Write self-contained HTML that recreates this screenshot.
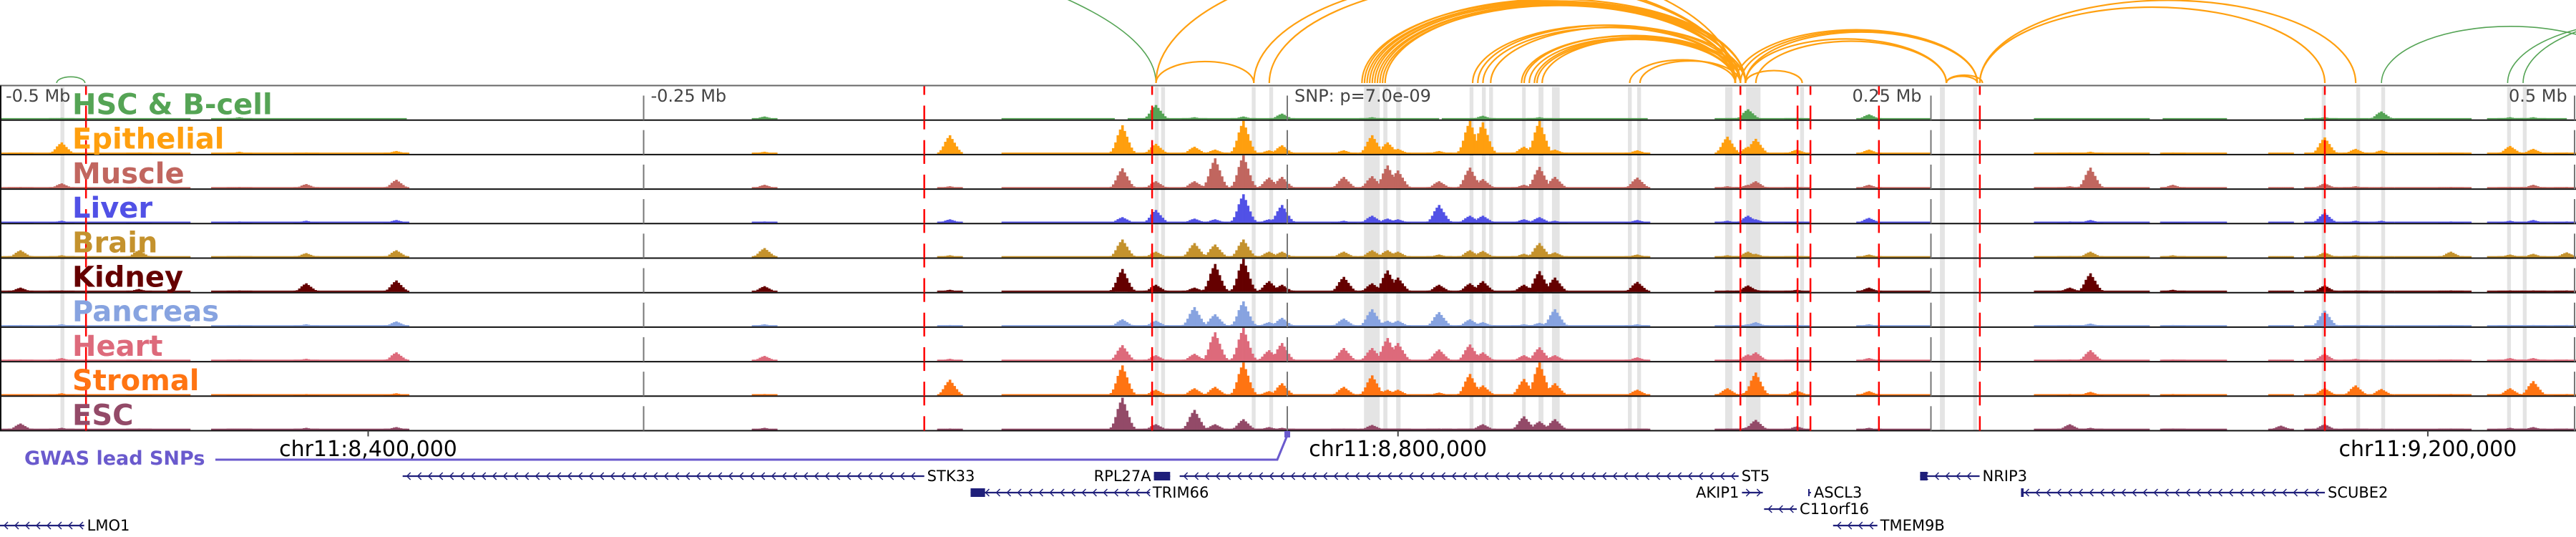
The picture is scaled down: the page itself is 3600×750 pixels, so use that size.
<!DOCTYPE html>
<html><head><meta charset="utf-8">
<style>
html,body{margin:0;padding:0;background:#fff;}
svg{display:block;}
text{font-family:"DejaVu Sans","Liberation Sans",sans-serif;}
</style></head>
<body>
<svg id="chart" width="3600" height="750" viewBox="0 0 3600 750" xmlns="http://www.w3.org/2000/svg">
<defs><clipPath id="arcclip"><rect x="0" y="0" width="3600" height="118"/></clipPath></defs>
<g id="bands"></g>
<g id="signals"></g>
<g id="borders"></g>
<g id="vlines"></g>
<g id="arcs" clip-path="url(#arcclip)"></g>
<g id="labels"></g>
<g id="genes"></g>
</svg>
<script>
// ---- data (kb offset from lead SNP, chr11:8,757,000) ----
const trackNames = ["HSC & B-cell","Epithelial","Muscle","Liver","Brain","Kidney","Pancreas","Heart","Stromal","ESC"];
const trackColors = ["#55a455","#ff9f0e","#c1665f","#5151e6","#c4922d","#650000","#87a3e0","#dd6a7b","#ff7412","#934a68"];
const peakPos = [-492,-476,-446,-407,-381,-346,-203,-131,-64,-51,-36,-28,-17,-7,-2,22,33,39,43,59,71,76,92,98,104,136,171,179,182,198,226,304,312,344,386,403,415,425,452,475,484,497];
const hHSC     = [0,2,0,3,0,0,4,0,0,20,3,0,4,0,8,0,3,0,0,0,0,5,0,3,0,0,1,14,0,2,7,0,0,0,0,3,0,11,0,3,3,0];
const hEpi     = [2,16,2,3,2,4,3,26,40,14,10,6,46,5,12,5,26,16,7,4,46,44,10,46,6,5,24,10,21,6,6,2,3,2,1,23,7,5,2,11,7,2];
const hMuscle  = [2,7,2,2,6,12,5,3,28,10,10,42,46,15,16,16,17,32,25,10,29,13,5,30,16,15,3,5,10,2,5,3,29,5,1,7,3,2,2,2,5,2];
const hLiver   = [1,3,1,2,3,4,2,5,8,18,6,5,40,5,25,3,10,6,5,25,10,10,5,8,3,4,3,10,5,2,7,2,4,1,1,14,3,3,2,3,4,2];
const hBrain   = [10,3,10,2,6,10,13,3,25,8,20,18,25,8,8,8,10,10,8,4,10,9,5,20,7,4,3,8,5,2,4,2,8,3,1,7,3,2,8,4,5,7];
const hKidney  = [6,2,4,2,12,16,8,3,32,10,6,39,46,15,10,21,12,30,20,10,12,15,10,29,20,14,2,9,3,3,6,6,26,3,1,9,2,2,2,2,2,2];
const hPanc    = [2,3,2,2,3,7,3,2,10,8,27,17,35,6,12,11,24,8,8,20,10,6,3,5,24,3,2,3,6,2,3,2,4,2,1,22,2,2,2,2,2,2];
const hHeart   = [2,4,2,2,3,12,7,3,22,8,10,40,46,15,25,18,18,32,25,16,23,12,8,19,8,5,2,9,12,2,4,2,15,2,1,10,3,2,2,4,4,2];
const hStromal = [1,3,1,1,2,3,2,22,42,8,10,12,46,6,17,12,28,8,8,4,30,14,23,46,17,8,10,5,32,7,6,2,5,2,1,10,14,9,2,10,20,2];
const hESC     = [9,3,2,1,3,4,3,2,45,8,28,8,15,4,3,2,7,2,2,2,2,8,19,12,15,2,2,4,14,5,3,8,3,2,6,8,2,2,2,3,4,2];
const baseStart = [-500,-418,-111,-62,60,170,230,290,340,395,430,466];
const baseEnd   = [-426,-342,-67,59,140,200,250,335,365,420,460,497];
const bandStart = [-476.5,-51.5,-49,-13.8,-7,29.8,37.3,42.3,70.8,75.6,78.4,91.2,97.6,102.8,132.3,135.9,170.1,178.2,199.2,253.5,266.4,401.8,415.2,424.9,473.8,479.9];
const bandEnd   = [-475,-50,-47.5,-12.3,-5.5,35.9,38.9,44,72.3,77.1,79.9,92.6,99.5,105.8,133.8,137.4,172.9,183.8,200.7,255.4,267.9,403.3,416.7,426.4,475.3,481.4];
const redLines = [-466.6,-141,-52.5,176,198.2,203.2,229.8,269,403];
const tickKb = [-250,0,250,500];
const tickLabels = ["-0.25 Mb","SNP: p=7.0e-09","0.25 Mb","0.5 Mb"];
const arcStart = [-478,-920,425,474,480,-51,-13,-7,29,30,31,32,33,34,35,36,37,38,72,74,76,79,91,92,94,96,97,99,133,137,-51,174,176,178,178,182,178,256,256,269,269];
const arcEnd   = [-467,-51,525,584,600,-13,174,174,174,178,174,176,174,178,174,176,174,178,174,176,174,178,174,176,174,176,174,178,174,176,174,268,268,268,256,256,200,268,270,403,415];
const arcGreen = [1,1,1,1,1,0,0,0,0,0,0,0,0,0,0,0,0,0,0,0,0,0,0,0,0,0,0,0,0,0,0,0,0,0,0,0,0,0,0,0,0];
const rulerKb = [-357,43,443];
const rulerLabels = ["chr11:8,400,000","chr11:8,800,000","chr11:9,200,000"];
const geneNames = ["STK33","RPL27A","TRIM66","LMO1","ST5","AKIP1","C11orf16","TMEM9B","NRIP3","SCUBE2","ASCL3"];
const geneStart = [-343.6,-51.8,-123,-500,-41.8,176.6,185.2,212,245.8,285,202.6];
const geneEnd   = [-141,-45.5,-53.4,-467.3,175.3,184.7,197.9,229.2,268.9,403,203.4];
const geneRow   = [0,0,1,3,0,1,2,3,0,1,1];
const geneDir   = [-1,-1,-1,-1,-1,1,-1,-1,-1,-1,0];
const geneLabelSide = [1,-1,1,1,1,-1,1,1,1,1,1];

// ---- scales ----
const NS="http://www.w3.org/2000/svg";
const xOf = kb => (kb + 500) * 3.598;
const T0 = 119.5, TH = 48.2;
const trackHeights=[hHSC,hEpi,hMuscle,hLiver,hBrain,hKidney,hPanc,hHeart,hStromal,hESC];
function mk(tag, attrs, parent){const e=document.createElementNS(NS,tag);for(const k in attrs)e.setAttribute(k,attrs[k]);parent.appendChild(e);return e;}
const gB=document.getElementById('bands'),gS=document.getElementById('signals'),gBo=document.getElementById('borders'),
gV=document.getElementById('vlines'),gA=document.getElementById('arcs'),gL=document.getElementById('labels'),gG=document.getElementById('genes');

for(let i=0;i<bandStart.length;i++){
  const r=mk('rect',{x:xOf(bandStart[i]),y:T0+2,width:Math.max(4,xOf(bandEnd[i])-xOf(bandStart[i])),height:TH*10-2,fill:'#e4e4e4'},gB);
  
  
}
const shape=[0.08,0.2,0.4,0.65,0.85,1,0.8,0.6,0.4,0.22,0.1];
for(let t=0;t<10;t++){
  const g=mk('g',{fill:trackColors[t]},gS);
  
  
  const base=T0+(t+1)*TH-1;
  for(let s=0;s<baseStart.length;s++){
    const r=mk('rect',{x:xOf(baseStart[s]),y:base-1.8,width:xOf(baseEnd[s])-xOf(baseStart[s]),height:1.8},g);
    
    
  }
  const hs=trackHeights[t];
  for(let p=0;p<peakPos.length;p++){
    const h=hs[p]; if(!h) continue;
    for(let k=0;k<shape.length;k++){
      const hh=Math.max(1.8,h*shape[k]);
      const r=mk('rect',{x:xOf(peakPos[p]+(k-5)*0.9)-1.8,y:base-hh,width:3.6,height:hh},g);
      
      
    }
  }
}
mk('line',{x1:0,x2:3600,y1:T0,y2:T0,stroke:'#666','stroke-width':2},gBo);
for(let t=1;t<=10;t++){mk('line',{x1:0,x2:3600,y1:T0+t*TH,y2:T0+t*TH,stroke:'#111','stroke-width':2},gBo);}
mk('line',{x1:1,x2:1,y1:T0,y2:T0+10*TH,stroke:'#111','stroke-width':2},gBo);
for(let i=0;i<tickKb.length;i++){
  for(let t=0;t<10;t++){
    const l=mk('line',{x1:xOf(tickKb[i]),x2:xOf(tickKb[i]),y1:T0+t*TH+14,y2:T0+(t+1)*TH,stroke:'#777','stroke-width':2},gV);
    
    
  }
}
for(let i=0;i<redLines.length;i++){
  for(let t=0;t<10;t++){
    const y=T0+t*TH;
    mk('line',{x1:xOf(redLines[i]),x2:xOf(redLines[i]),y1:y+1,y2:y+13,stroke:'#f00','stroke-width':2.5},gV);
    const l=mk('line',{x1:xOf(redLines[i]),x2:xOf(redLines[i]),y1:y+28,y2:y+TH,stroke:'#f00','stroke-width':2.5},gV);
    
    
  }
}
const AB=116;
for(let i=0;i<arcStart.length;i++){
  const x1=xOf(arcStart[i]),x2=xOf(arcEnd[i]);const span=x2-x1;
  const ry=Math.min(0.22*span,300);
  const p=mk('path',{d:`M${x1},${AB} A${span/2},${ry} 0 0 1 ${x2},${AB}`,fill:'none',stroke:arcGreen[i]?'#55a455':'#ffa010','stroke-width':arcGreen[i]?1.6:2.2},gA);
  
  
}
for(let t=0;t<10;t++){
  const tx=mk('text',{x:101,y:T0+t*TH+40,'font-size':40,'font-weight':'bold',fill:trackColors[t]},gL);
  tx.textContent=trackNames[t];
  
  
}
const mb=mk('text',{x:8,y:142,'font-size':24,fill:'#444'},gL);mb.textContent='-0.5 Mb';


const tickOff=[10,10,-110,-92];
for(let i=0;i<tickKb.length;i++){
  const tx=mk('text',{x:xOf(tickKb[i])+tickOff[i],y:142,'font-size':24,fill:'#444'},gL);
  tx.textContent=tickLabels[i];
  
  
}
for(let i=0;i<rulerKb.length;i++){
  const x=xOf(rulerKb[i]);
  mk('line',{x1:x,x2:x,y1:T0+10*TH,y2:T0+10*TH+8,stroke:'#444','stroke-width':2},gG);
  const tx=mk('text',{x:x,y:637,'font-size':30,'text-anchor':'middle',fill:'#000'},gG);
  tx.textContent=rulerLabels[i];
  
  
}
const gw=mk('text',{x:34,y:649,'font-size':27,'font-weight':'bold',fill:'#6a5acd'},gG);gw.textContent='GWAS lead SNPs';


const gl=mk('path',{d:`M301,642 L${xOf(0)-14},642 L${xOf(0)},608`,fill:'none',stroke:'#6a5acd','stroke-width':3},gG);


const gm=mk('rect',{x:xOf(0)-4,y:602,width:8,height:9,fill:'#6a5acd'},gG);


const rowY=[665,688,711,734];
for(let i=0;i<geneNames.length;i++){
  const x1=xOf(geneStart[i]),x2=xOf(geneEnd[i]),y=rowY[geneRow[i]];
  const g=mk('g',{},gG);
  
  
  mk('line',{x1:x1,x2:x2,y1:y,y2:y,stroke:'#1f1f7a','stroke-width':2.2},g);
  if(geneDir[i]!==0){
    for(let x=x1+6;x<x2-4;x+=15){
      const d=geneDir[i]<0?`M${x+5},${y-5} L${x},${y} L${x+5},${y+5}`:`M${x},${y-5} L${x+5},${y} L${x},${y+5}`;
      mk('path',{d:d,fill:'none',stroke:'#1f1f7a','stroke-width':1.5},g);
    }
  } else {
    mk('line',{x1:x1,x2:x1,y1:y-5,y2:y+5,stroke:'#1f1f7a','stroke-width':2},g);
  }
  const tx=mk('text',{x:geneLabelSide[i]>0?x2+4:x1-4,y:y+7,'font-size':21,'text-anchor':geneLabelSide[i]>0?'start':'end',fill:'#000'},g);
  tx.textContent=geneNames[i];
}
const boxStart=[-51.8,-123,245.8,285];const boxEnd=[-45.5,-117.4,248.6,286];const boxRow=[0,1,0,1];
for(let i=0;i<boxStart.length;i++){
  const r=mk('rect',{x:xOf(boxStart[i]),y:rowY[boxRow[i]]-6,width:xOf(boxEnd[i])-xOf(boxStart[i]),height:12,fill:'#1f1f7a'},gG);
  
  
}
</script>
</body></html>
